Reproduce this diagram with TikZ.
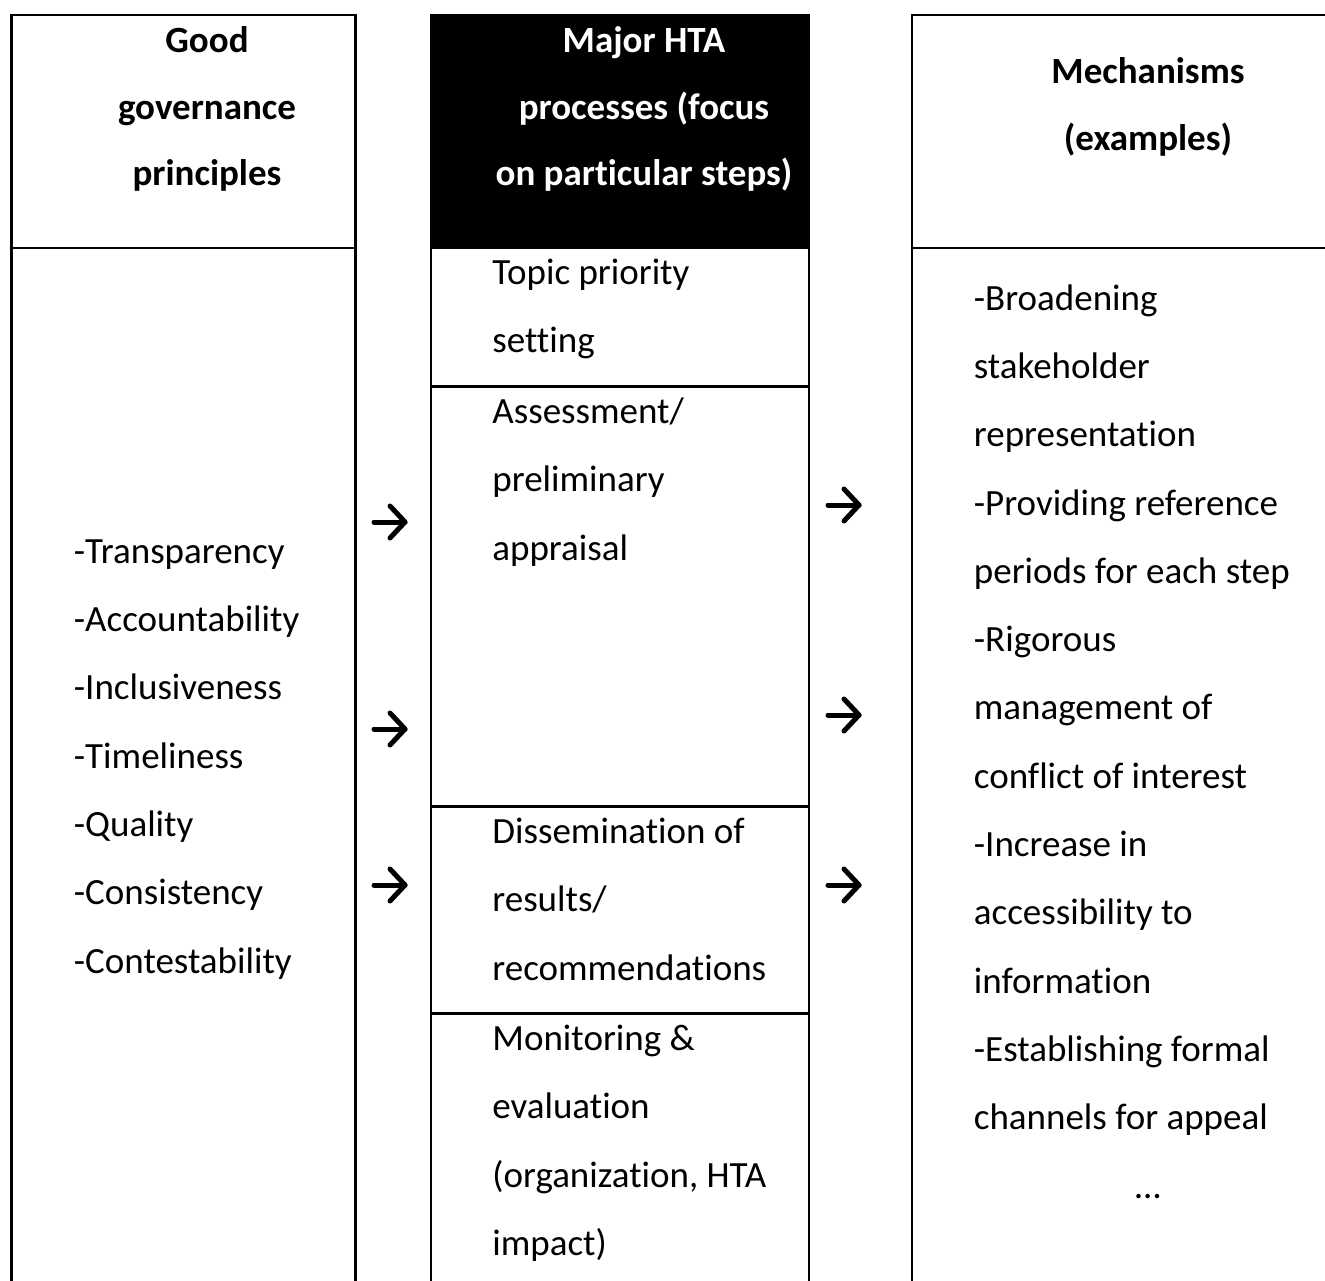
\documentclass[tikz,border=0pt]{standalone}
\usepackage{fontspec}
\setmainfont{Carlito}[Ligatures=NoCommon]
\begin{document}
\begin{tikzpicture}[x=0.5pt,y=-0.5pt]
\tikzset{
  frame/.style={line width=1.35pt},
  txt/.style={anchor=base west, inner sep=0pt, font=\fontsize{18.5}{22}\selectfont},
  head/.style={anchor=base, inner sep=0pt, font=\fontsize{18.5}{22}\selectfont\bfseries},
  arr/.style={line width=2.5pt, line cap=round, line join=round},
}
\useasboundingbox (0,0) rectangle (1325,1280);
\clip (0,0) rectangle (1325,1280);
\fill[white] (0,0) rectangle (1325,1280);

% left column frame
\draw[frame] (11.5,1300) -- (11.5,15) -- (355.5,15) -- (355.5,1300);
\draw[frame] (11.5,248) -- (355.5,248);

% middle column frame
\fill[black] (431,15) rectangle (809,248);
\draw[frame] (431,1300) -- (431,15) -- (809,15) -- (809,1300);
\draw[frame] (431,248) -- (809,248);
\draw[frame] (431,386.5) -- (809,386.5);
\draw[frame] (431,806.5) -- (809,806.5);
\draw[frame] (431,1013.5) -- (809,1013.5);

% right column frame
\draw[frame] (912,1300) -- (912,15) -- (1340,15);
\draw[frame] (912,248) -- (1340,248);

% headers
\node[head] (hl1) at (207,52.5) {Good};
\node[head] (hl2) at (207,119) {governance};
\node[head] (hl3) at (207,185.5) {principles};
\node[head,text=white] (hm1) at (644,52.5) {Major HTA};
\node[head,text=white] (hm2) at (644,119) {processes (focus};
\node[head,text=white] (hm3) at (644,185.5) {on particular steps)};
\node[head] (hr1) at (1148,83) {Mechanisms};
\node[head] (hr2) at (1148,150) {(examples)};

% left body
\foreach \t [count=\i from 0] in {-Transparency,-Accountability,-Inclusiveness,-Timeliness,-Quality,-Consistency,-Contestability}
  \node[txt] (gp\i) at (73.5,{563+68.33*\i}) {\t};

% middle body
\node[txt] (m1a) at (492,284) {Topic priority};
\node[txt] (m1b) at (492,352.5) {setting};
\node[txt] (m2a) at (492,423) {Assessment/};
\node[txt] (m2b) at (492,491.5) {preliminary};
\node[txt] (m2c) at (492,560) {appraisal};
\node[txt] (m3a) at (492,843) {Dissemination of};
\node[txt] (m3b) at (492,911.5) {results/};
\node[txt] (m3c) at (492,980) {recommendations};
\node[txt] (m4a) at (492,1050) {Monitoring \&};
\node[txt] (m4b) at (492,1118.5) {evaluation};
\node[txt] (m4c) at (492,1187) {(organization, HTA};
\node[txt] (m4d) at (492,1255.5) {impact)};

% right body
\foreach \t [count=\i from 0] in {-Broadening,stakeholder,representation,-Providing reference,periods for each step,-Rigorous,management of,conflict of interest,-Increase in,accessibility to,information,-Establishing formal,channels for appeal}
  \node[txt] (mc\i) at (973.5,{310+68.33*\i}) {\t};
\node[anchor=base, inner sep=0pt, font=\fontsize{18.5}{22}\selectfont] (dots) at (1148,1198) {…};

% arrows
\foreach \n/\xa/\xb/\yy in {la1/374/405/522, la2/374/405/729, la3/374/405/885, ra1/828/859/505, ra2/828/859/715, ra3/828/859/885}{
  \coordinate (\n s) at (\xa,\yy);
  \coordinate (\n e) at (\xb,\yy);
  \draw[arr] (\n s) -- (\n e);
  \draw[arr] (\n e) ++(-15,-16) -- (\n e) -- ++(-15,16);
}
\end{tikzpicture}
\end{document}
